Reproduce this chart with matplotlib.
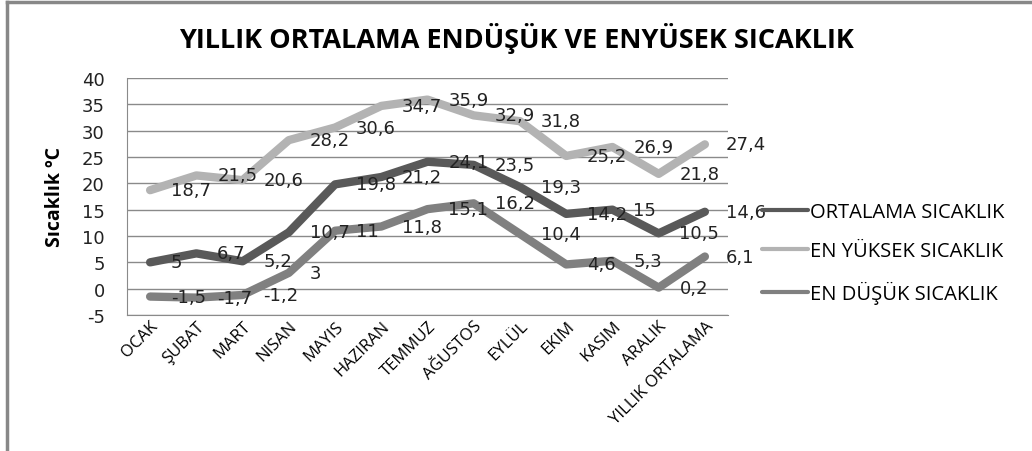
import matplotlib
matplotlib.use("Agg")
import matplotlib.pyplot as plt
from matplotlib.lines import Line2D

plt.rcParams["axes.unicode_minus"] = False

months = ["OCAK", "ŞUBAT", "MART", "NISAN", "MAYIS", "HAZIRAN", "TEMMUZ",
          "AĞUSTOS", "EYLÜL", "EKIM", "KASIM", "ARALIK", "YILLIK ORTALAMA"]
ortalama = [5, 6.7, 5.2, 10.7, 19.8, 21.2, 24.1, 23.5, 19.3, 14.2, 15, 10.5, 14.6]
en_yuksek = [18.7, 21.5, 20.6, 28.2, 30.6, 34.7, 35.9, 32.9, 31.8, 25.2, 26.9, 21.8, 27.4]
en_dusuk = [-1.5, -1.7, -1.2, 3, 11, 11.8, 15.1, 16.2, 10.4, 4.6, 5.3, 0.2, 6.1]
series_names = ["ORTALAMA SICAKLIK", "EN YÜKSEK SICAKLIK", "EN DÜŞÜK SICAKLIK"]
colors = ["#595959", "#b3b3b3", "#808080"]

W, H = 1032, 452
fig = plt.figure(figsize=(W / 100, H / 100), dpi=100)
ax = fig.add_axes([127 / W, 1 - 316 / H, (728 - 127) / W, (316 - 79) / H])

x = list(range(len(months)))
for vals, name, c in zip([ortalama, en_yuksek, en_dusuk], series_names, colors):
    ax.plot(x, vals, color=c, lw=6, label=name,
            solid_capstyle="round", solid_joinstyle="round", zorder=3)
for vals in [ortalama, en_yuksek, en_dusuk]:
    for i, v in enumerate(vals):
        ax.annotate(f"{v:g}".replace(".", ","), (i, v), xytext=(15, 0),
                    textcoords="offset points", ha="left", va="center",
                    fontsize=13, color="#222222", zorder=5)

ax.set_xlim(-0.5, len(months) - 0.5)
ax.set_ylim(-5, 40)
ax.set_yticks(range(-5, 41, 5))
ax.grid(axis="y", color="#8a8a8a", lw=1)
ax.set_axisbelow(True)
for s in ["top", "right"]:
    ax.spines[s].set_visible(False)
for s in ["left", "bottom"]:
    ax.spines[s].set_color("#8a8a8a")
ax.tick_params(length=0, labelsize=13, colors="#222222")
ax.tick_params(axis="y", pad=16)
ax.tick_params(axis="x", pad=2, colors="black")
ax.set_xticks(x)
ax.set_xticklabels(months, rotation=45, ha="right", rotation_mode="anchor",
                   fontsize=12, family="Open Sans")
ax.set_ylabel("Sıcaklık ºC", fontsize=14, fontweight="bold",
              family="Open Sans", labelpad=12)

leg = ax.legend(loc="center left", bbox_to_anchor=(762 / W, 1 - 254 / H),
                bbox_transform=fig.transFigure, frameon=False,
                prop={"family": "Open Sans", "size": 14.5}, handlelength=2.3,
                handletextpad=0.1, labelspacing=0.95, borderpad=0, borderaxespad=0)
for h in leg.get_lines():
    h.set_linewidth(3)

fig.text(0.5, 1 - 38 / H, "YILLIK ORTALAMA ENDÜŞÜK VE ENYÜSEK SICAKLIK",
         ha="center", va="center", fontsize=19.5, fontweight="bold", family="Open Sans")

fig.add_artist(Line2D([7 / W, 7 / W], [0, 1 - 2.5 / H], color="#888888", lw=2.5,
                      transform=fig.transFigure))
fig.add_artist(Line2D([7 / W, 1], [1 - 2.5 / H, 1 - 2.5 / H], color="#888888", lw=2.5,
                      transform=fig.transFigure))

fig.savefig("out.png", dpi=100)
